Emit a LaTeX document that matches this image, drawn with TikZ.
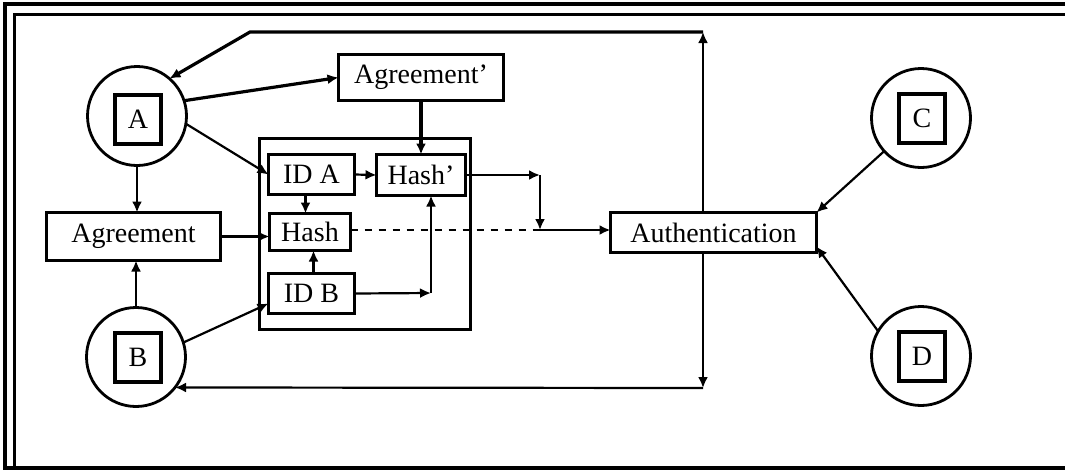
\documentclass[tikz,border=0pt]{standalone}
\usepackage{fontspec}
\setmainfont{Liberation Serif}
\usetikzlibrary{arrows.meta,calc}
\begin{document}
\begin{tikzpicture}[x=1pt,y=-1pt,
  every node/.style={font=\fontsize{28}{32}\selectfont, inner sep=0pt, outer sep=0pt},
  box/.style 2 args={draw, line width=3.5pt, minimum width=#1, minimum height=#2},
  party/.style={draw, circle, line width=2.8pt, minimum size=99pt},
  badge/.style={draw, line width=3.8pt, minimum width=46pt, minimum height=49pt},
  group/.style={draw, line width=3.2pt, minimum width=211pt, minimum height=191pt},
  arr/.style={line width=2.2pt, -{Latex[length=11pt,width=10pt]}},
  heavy/.style={arr, line width=3.2pt},
  link/.style={line width=2.2pt}]
\useasboundingbox (0,0) rectangle (1065,472);

% double frame (open on the right)
\draw[line width=3.5pt] (1065,4) -- (5,4) -- (5,468) -- (1065,468);
\draw[line width=3pt] (1065,14) -- (14,14) -- (14,468);

% parties
\node[party] (circA) at (137,116) {};
\node[badge] (sqA) at (138,119.5) {A};
\node[party] (circB) at (136,357) {};
\node[badge] (sqB) at (138,357.5) {B};
\node[party] (circC) at (921,118) {};
\node[badge] (sqC) at (922,118.5) {C};
\node[party] (circD) at (921,356) {};
\node[badge] (sqD) at (922,356.5) {D};

% processing boxes
\node[group] (grp) at (365,234) {};
\node[box={165}{46}] (agreeP) at (421,77.5) {Agreement’};
\node[box={174}{48}] (agree) at (133.5,236.5) {Agreement};
\node[box={86}{40}] (idA) at (311.5,174.5) {ID A};
\node[box={89}{41}] (hashP) at (421,175) {Hash’};
\node[box={81}{37}] (hash) at (310,232) {Hash};
\node[box={86}{40}] (idB) at (311.5,293.5) {ID B};
\node[box={206}{40}] (auth) at (713.5,232.5) {Authentication};

% junction points
\coordinate (tTop) at (703,32);
\coordinate (tMid) at (250,32);
\coordinate (bBot) at (703,388);
\coordinate (j1) at (540,175);
\coordinate (j2) at (540,230);
\coordinate (j3) at (431,293);

% feedback loops from the authentication
\draw[arr] (auth.north -| tTop) -- (tTop);
\draw[heavy] (tTop) -- (tMid) -- (circA.49);
\draw[arr] (auth.south -| bBot) -- (bBot);
\draw[arr] (bBot) -- (circB.-38);

% party A
\draw[heavy] (circA.18) -- (agreeP.west);
\draw[arr] (circA.-9) -- (idA.west);
\draw[arr] (circA.south) -- (circA.south |- agree.north);

% party B
\draw[arr] (circB.north) -- (circB.north |- agree.south);
\draw[arr] (circB.17) -- ($(idB.west)!0.5!(idB.south west)$);

% inside the hashing block
\draw[arr] (agree.east) -- (agree.east -| hash.west);
\draw[arr] (idA.east) -- (hashP.west);
\draw[heavy] (agreeP.south) -- (hashP.north);
\draw[arr] ([xshift=-6pt]idA.south) -- ([xshift=-6pt]idA.south |- hash.north);
\draw[arr] ([xshift=2pt]idB.north) -- ([xshift=2pt]idB.north |- hash.south);

% to the authentication
\draw[arr] (hashP.east) -- (j1);
\draw[arr] (j1) -- (j2);
\draw[arr] (j2) -- (j2 -| auth.west);
\draw[link, dashed, dash pattern=on 7pt off 7pt] (hash.east |- j2) -- (j2);
\draw[arr] (idB.east) -- (j3);
\draw[arr] (j3) -- (j3 |- hashP.south);

% parties C and D
\draw[arr] (circC.222) -- (auth.north east);
\draw[arr] (circD.150) -- ([yshift=6pt]auth.south east);
\end{tikzpicture}
\end{document}
